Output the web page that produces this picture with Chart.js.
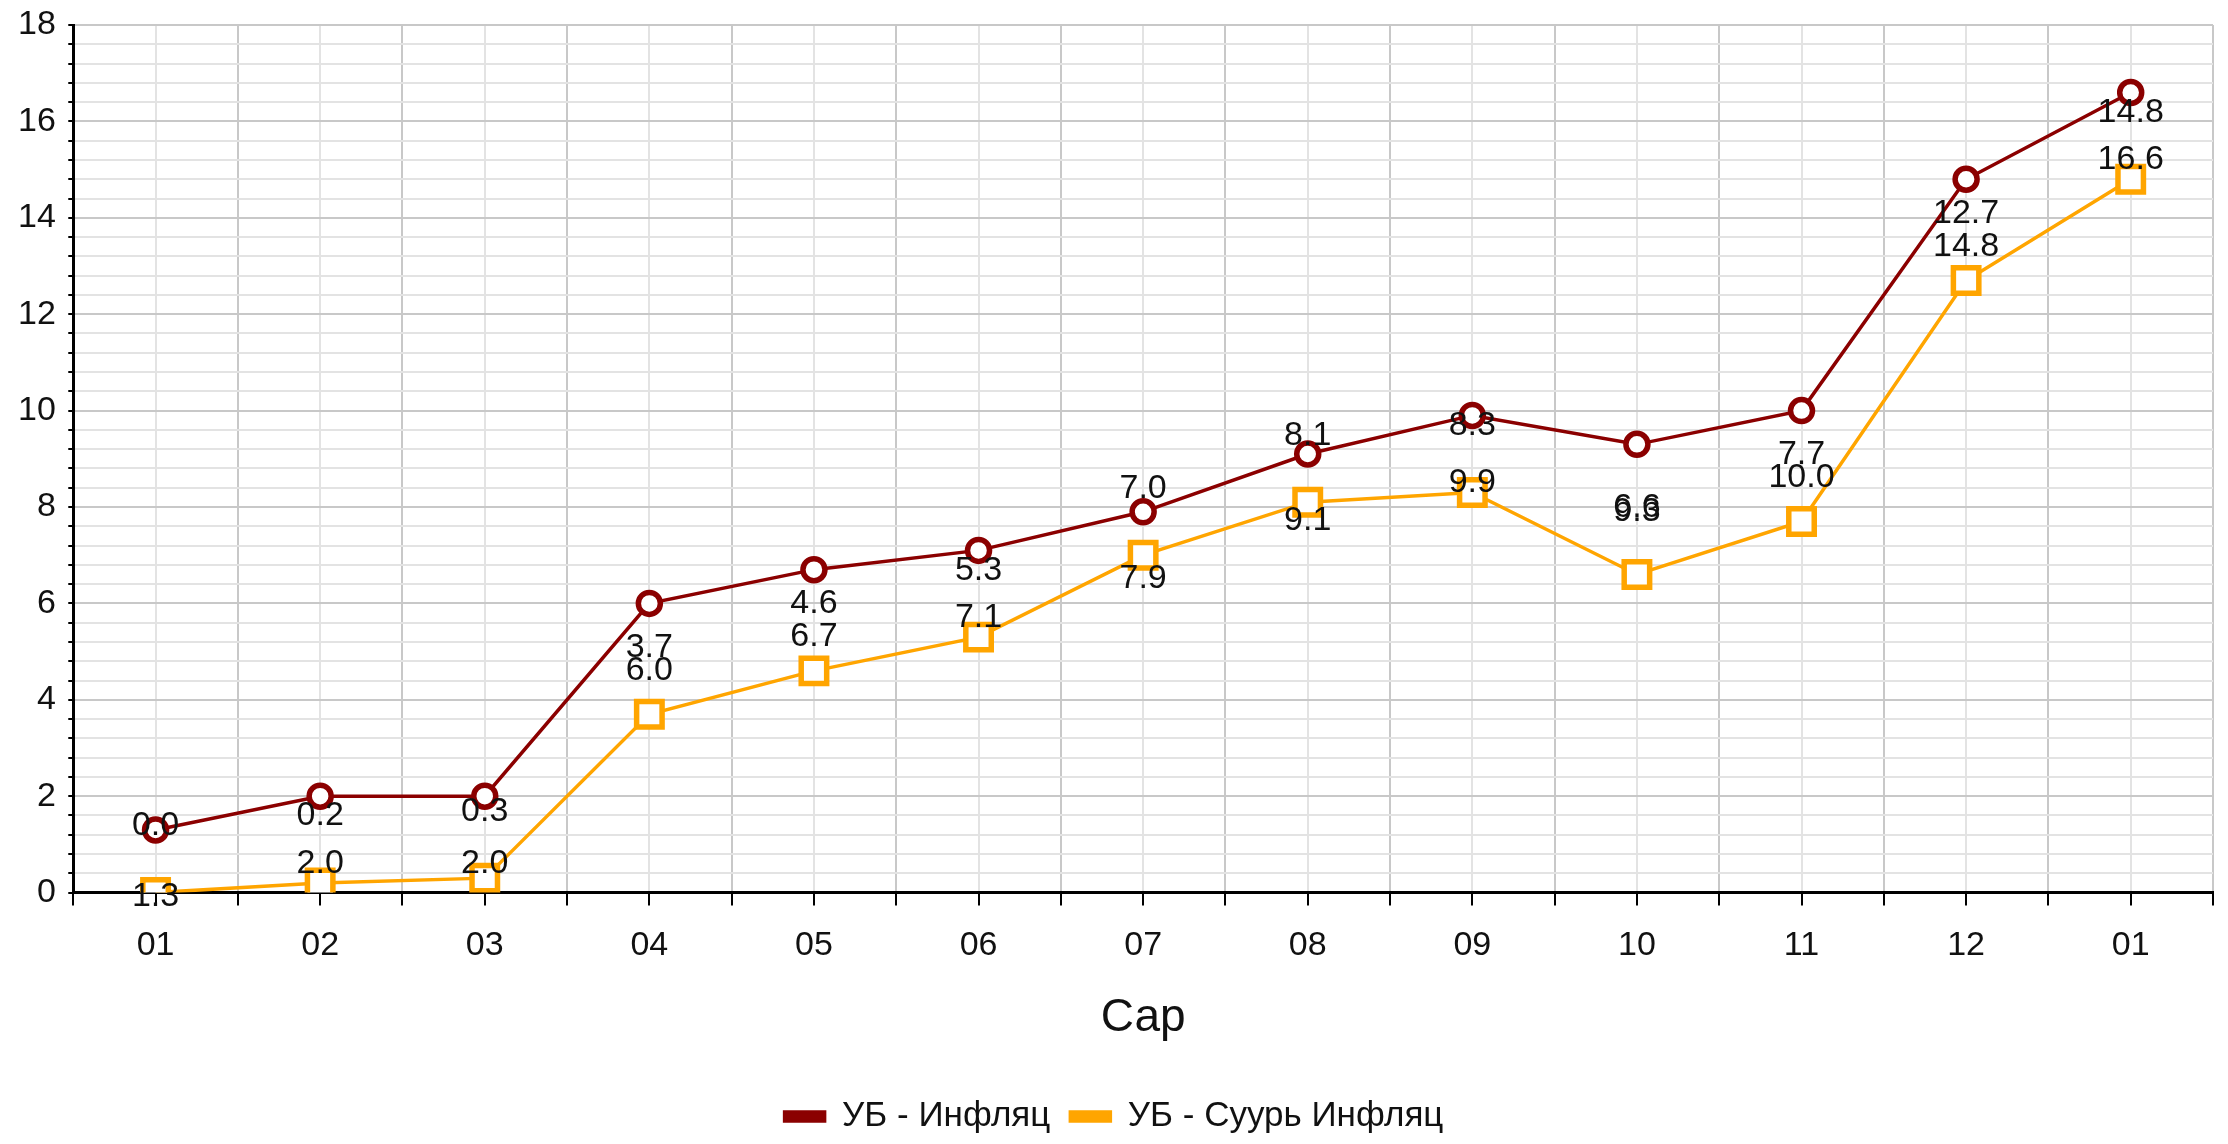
<!DOCTYPE html>
<html>
<head>
<meta charset="utf-8">
<script src="https://cdn.jsdelivr.net/npm/chart.js@4.4.1/dist/chart.umd.min.js"></script>
<style>
  html, body { margin: 0; padding: 0; background: #fff; }
  #wrap { width: 2228px; height: 1144px; }
</style>
</head>
<body>
<div id="wrap"><canvas id="inflChart" width="2228" height="1144"></canvas></div>
<script>
const months = ["01", "02", "03", "04", "05", "06", "07", "08", "09", "10", "11", "12", "01"];
const inflation = [1.3, 2.0, 2.0, 6.0, 6.7, 7.1, 7.9, 9.1, 9.9, 9.3, 10.0, 14.8, 16.6];
const coreInflation = [0.0, 0.2, 0.3, 3.7, 4.6, 5.3, 7.0, 8.1, 8.3, 6.6, 7.7, 12.7, 14.8];
const yTicks = [0, 2, 4, 6, 8, 10, 12, 14, 16, 18];

const fontFamily = '"Liberation Sans", Arial, sans-serif';

function isWhole(v, step) {
  return Math.abs(v / step - Math.round(v / step)) < 1e-6;
}

// value labels: red below its point, orange above its point
const valueLabels = {
  id: "valueLabels",
  afterDatasetsDraw(chart) {
    const ctx = chart.ctx;
    ctx.save();
    ctx.font = "34px " + fontFamily;
    ctx.fillStyle = "#111";
    ctx.textAlign = "center";
    ctx.textBaseline = "middle";
    chart.data.datasets.forEach((ds, i) => {
      chart.getDatasetMeta(i).data.forEach((pt, j) => {
        ctx.fillText(ds.data[j].y.toFixed(1), pt.x, pt.y + ds.labelShift);
      });
    });
    ctx.restore();
  }
};

new Chart(document.getElementById("inflChart").getContext("2d"), {
  type: "line",
  data: {
    datasets: [{
      label: "УБ - Инфляц",
      data: inflation.map((v, i) => ({ x: i, y: v })),
      borderColor: "#8B0000",
      backgroundColor: "#8B0000",
      borderWidth: 3.5,
      pointStyle: "circle",
      pointRadius: 11,
      pointBorderWidth: 5.5,
      pointBackgroundColor: "#fff",
      pointBorderColor: "#8B0000",
      tension: 0,
      labelShift: 67
    }, {
      label: "УБ - Суурь Инфляц",
      data: coreInflation.map((v, i) => ({ x: i, y: v })),
      borderColor: "#FFA500",
      backgroundColor: "#FFA500",
      borderWidth: 3.5,
      pointStyle: "rect",
      pointRadius: 18,
      pointBorderWidth: 5.5,
      pointBackgroundColor: "#fff",
      pointBorderColor: "#FFA500",
      tension: 0,
      labelShift: -67
    }]
  },
  options: {
    responsive: false,
    animation: false,
    layout: { autoPadding: false, padding: { top: 25, left: 15, right: 15, bottom: 0 } },
    plugins: {
      tooltip: { enabled: false },
      legend: {
        position: "bottom",
        labels: {
          boxWidth: 40,
          boxHeight: 9,
          padding: 20,
          color: "#111",
          font: { family: fontFamily, size: 35 }
        }
      }
    },
    scales: {
      x: {
        type: "linear",
        min: -0.5,
        max: 12.5,
        ticks: {
          stepSize: 0.5,
          autoSkip: false,
          maxRotation: 0,
          padding: 9,
          color: "#111",
          font: { family: fontFamily, size: 34, lineHeight: 1.8 },
          callback: v => isWhole(v, 1) ? months[Math.round(v)] : ""
        },
        grid: {
          color: c => isWhole(c.tick.value, 1) ? "#e3e3e3" : "#c8c8c8",
          lineWidth: 2,
          tickLength: 13,
          tickColor: "#000",
          tickWidth: 2
        },
        border: { color: "#000", width: 3 },
        title: {
          display: true,
          text: "Сар",
          color: "#111",
          font: { family: fontFamily, size: 46 },
          padding: { top: 6, bottom: 33 }
        }
      },
      y: {
        min: 0,
        max: 18,
        ticks: {
          stepSize: 0.4,
          autoSkip: false,
          padding: 3,
          color: "#111",
          font: { family: fontFamily, size: 34 },
          callback: v => yTicks.includes(Math.round(v)) && isWhole(v, 2) ? Math.round(v) + " " : ""
        },
        grid: {
          color: c => isWhole(c.tick.value, 2) ? "#c8c8c8" : "#e3e3e3",
          lineWidth: 2,
          tickLength: 5,
          tickColor: "#000",
          tickWidth: 2
        },
        border: { color: "#000", width: 3 }
      }
    }
  },
  plugins: [valueLabels]
});
</script>
</body>
</html>
